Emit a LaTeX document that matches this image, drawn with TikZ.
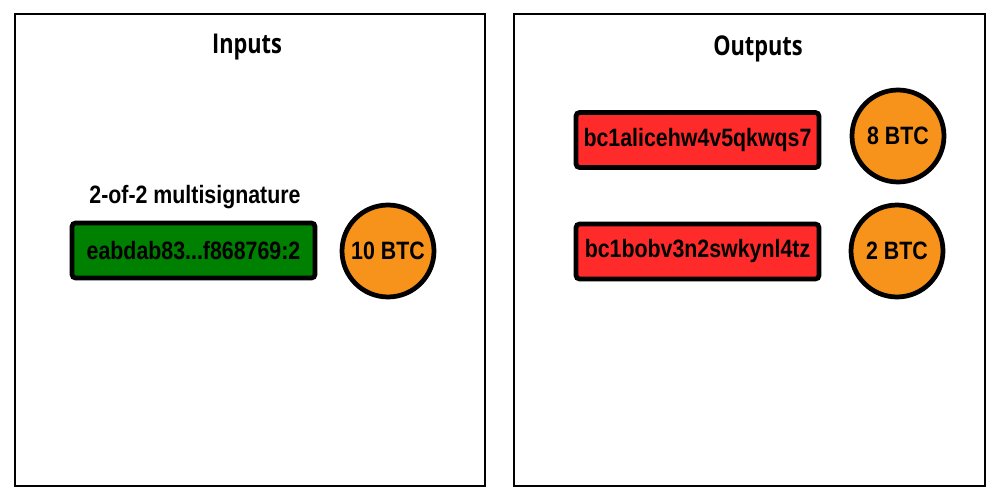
\documentclass[tikz,border=0pt]{standalone}
\usepackage{fontspec}
\setmainfont{Liberation Sans}[FakeStretch=0.85]
\newfontfamily\titlefont{Open Sans}[FakeStretch=0.8]
\usepackage{tikz}

\definecolor{btcorange}{RGB}{247,147,26}
\definecolor{outred}{RGB}{255,42,42}
\definecolor{ingreen}{RGB}{0,128,0}

\begin{document}
\begin{tikzpicture}[x=0.02cm, y=-0.02cm,
    panel/.style={draw=black, line width=1.2pt},
    heading/.style={font=\titlefont\fontsize{15.5}{18}\selectfont\bfseries},
    txt/.style={font=\fontsize{14.3}{17}\selectfont\bfseries},
    outpoint/.style={txt, draw=black, line width=2.7pt, rounded corners=2pt, minimum width=4.86cm, minimum height=1.1cm, inner sep=0pt},
    coin/.style={txt, circle, draw=black, fill=btcorange, line width=2.7pt, minimum size=1.84cm, inner sep=0pt}]
    \useasboundingbox (0,0) rectangle (1000,500);
    % two panels
    \draw[panel] (15,14) rectangle (485,486);
    \draw[panel] (514,14) rectangle (985,486);
    \node[heading] (inhead) at (247,47) {Inputs};
    \node[heading] (outhead) at (758,49) {Outputs};
    %
    \node[txt] (msig) at (195,197) {2-of-2 multisignature};
    \node[outpoint, fill=ingreen] (prev) at (193.5,250.5) {eabdab83...f868769:2};
    \node[coin] (invalue) at (388,251) {10 BTC};
    %
    \node[outpoint, fill=outred] (alice) at (697.5,140) {bc1alicehw4v5qkwqs7};
    \node[coin] (alicevalue) at (898,136) {8 BTC};
    \node[outpoint, fill=outred] (bob) at (697.5,251.5) {bc1bobv3n2swkynl4tz};
    \node[coin] (bobvalue) at (897,251) {2 BTC};
\end{tikzpicture}
\end{document}
